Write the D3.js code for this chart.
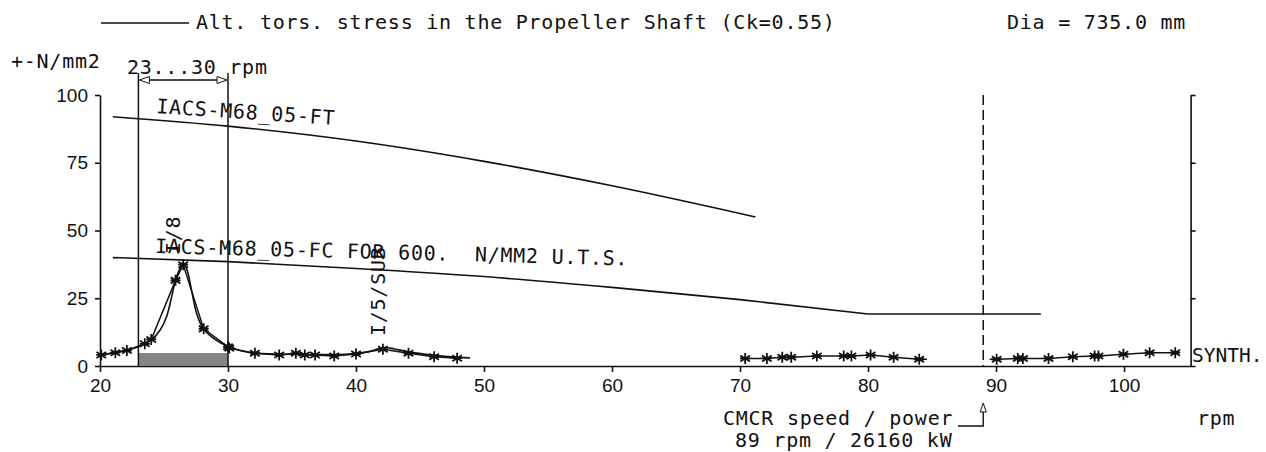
<!DOCTYPE html>
<html>
<head>
<meta charset="utf-8">
<script src="https://cdn.jsdelivr.net/npm/d3@7"></script>
<style>
  body { margin: 0; background: #fff; }
  svg { display: block; }
  .mono { font-family: "DejaVu Sans Mono", monospace; font-size: 20px; letter-spacing: 0.75px; fill: #111; white-space: pre; }
  .tick text { font-family: "Liberation Sans", Arial, sans-serif; font-size: 19px; fill: #111; }
  .axis path, .axis line { stroke: #111; stroke-width: 1.6; }
</style>
</head>
<body>
<div id="chart"></div>
<script>
// tick values
var yTicks = [0, 25, 50, 75, 100];
var xTicks = [20, 30, 40, 50, 60, 70, 80, 90, 100];

// IACS M68 limit curves (rpm / N/mm2)
var ftRpm = [21, 30, 40, 50, 60, 71.2];
var ftVal = [92, 88.5, 83, 75.5, 66.5, 55];
var fcRpm = [21, 30, 40, 50, 60, 70, 80];
var fcVal = [40, 38.5, 36, 33, 29, 24.5, 19.2];
var fcFlatRpm = [80, 93.5];
var fcFlatVal = [19.2, 19.2];

// synthesised stress - smooth curve, first speed range
var resRpm = [20, 21, 22, 23, 24, 24.7, 25.2, 25.6, 25.9, 26.25, 26.5, 26.8, 27.15, 27.55, 28.05, 28.7, 29.4, 30, 31, 32, 34, 36, 38, 40, 41, 42.2, 43, 44, 46, 48, 48.9];
var resVal = [4.0, 4.9, 5.8, 7.1, 9.6, 13.3, 18.2, 25.6, 31.7, 36, 38, 35.4, 28, 19.4, 13.9, 10.8, 8.6, 7.3, 5.6, 4.8, 4.4, 4.3, 4.2, 4.6, 5.3, 6.8, 6.3, 5.3, 4.0, 3.2, 3.0];

// synthesised stress - calculated points (asterisks)
var pt1Rpm = [20.1, 21.2, 22.1, 23.5, 24.0, 25.9, 26.5, 28.1, 30.0, 30.1, 32.1, 34.0, 35.3, 36.0, 36.8, 38.3, 40.0, 42.1, 44.1, 46.1, 47.9];
var pt1Val = [4.1, 4.9, 5.7, 8.2, 9.8, 31.6, 37.4, 13.7, 7.1, 6.6, 4.7, 4.1, 4.7, 4.1, 4.1, 3.7, 4.4, 6.2, 4.7, 3.4, 2.9];
var pt2Rpm = [70.4, 72.1, 73.3, 74.0, 76.0, 78.1, 78.7, 80.2, 82.0, 84.0];
var pt2Val = [2.8, 2.8, 3.2, 3.2, 3.7, 3.7, 3.7, 4.1, 3.2, 2.5];
var pt3Rpm = [90.05, 91.7, 92.1, 94.1, 96.0, 97.7, 98.0, 99.95, 102.0, 104.0];
var pt3Val = [2.5, 2.8, 2.8, 2.8, 3.4, 3.7, 3.7, 4.3, 4.9, 4.9];

// barred speed range and CMCR
var barFrom = 23, barTo = 30;
var cmcrRpm = 89;

var W = 1266, H = 452;
var svg = d3.select("#chart").append("svg")
  .attr("width", W)
  .attr("height", H);

var x = d3.scaleLinear().domain([20, 105.2]).range([100, 1190.6]);
var y = d3.scaleLinear().domain([0, 100]).range([366, 95]);

function pts(r, v) {
  return r.map(function (d, i) { return [d, v[i]]; });
}

var line = d3.line()
  .x(function (d) { return x(d[0]); })
  .y(function (d) { return y(d[1]); });

// axes
svg.append("g")
  .attr("class", "axis")
  .attr("transform", "translate(" + x(20) + ",0)")
  .call(d3.axisLeft(y).tickValues(yTicks).tickSize(5).tickPadding(7).tickSizeOuter(0));

svg.append("g")
  .attr("class", "axis")
  .attr("transform", "translate(" + x.range()[1] + ",0)")
  .call(d3.axisRight(y).tickValues(yTicks).tickSize(5).tickFormat("").tickSizeOuter(0));

svg.append("g")
  .attr("class", "axis")
  .attr("transform", "translate(0," + y(0) + ")")
  .call(d3.axisBottom(x).tickValues(xTicks).tickSize(6).tickPadding(7).tickSizeOuter(0));

// barred speed range
svg.append("rect")
  .attr("x", x(barFrom))
  .attr("y", y(0) - 13)
  .attr("width", x(barTo) - x(barFrom))
  .attr("height", 13)
  .attr("fill", "#858585");

[barFrom, barTo].forEach(function (r) {
  svg.append("line")
    .attr("x1", x(r)).attr("x2", x(r))
    .attr("y1", 73).attr("y2", y(0))
    .attr("stroke", "#111").attr("stroke-width", 1.5);
});

// double arrow
svg.append("line")
  .attr("x1", x(barFrom) + 2).attr("x2", x(barTo) - 2)
  .attr("y1", 80).attr("y2", 80)
  .attr("stroke", "#111").attr("stroke-width", 1.4);
svg.append("path")
  .attr("d", "M" + (x(barFrom) + 1) + ",80l10,-3.5v7z")
  .attr("fill", "#fff").attr("stroke", "#111").attr("stroke-width", 1);
svg.append("path")
  .attr("d", "M" + (x(barTo) - 1) + ",80l-10,-3.5v7z")
  .attr("fill", "#fff").attr("stroke", "#111").attr("stroke-width", 1);

// CMCR dashed line
svg.append("line")
  .attr("x1", x(cmcrRpm)).attr("x2", x(cmcrRpm))
  .attr("y1", 95).attr("y2", y(0))
  .attr("stroke", "#111").attr("stroke-width", 1.5)
  .attr("stroke-dasharray", "10,5");

// limit curves
svg.append("path")
  .attr("d", line.curve(d3.curveMonotoneX)(pts(ftRpm, ftVal)))
  .attr("fill", "none").attr("stroke", "#111").attr("stroke-width", 1.6);
svg.append("path")
  .attr("d", line.curve(d3.curveMonotoneX)(pts(fcRpm, fcVal)))
  .attr("fill", "none").attr("stroke", "#111").attr("stroke-width", 1.6);
svg.append("path")
  .attr("d", line.curve(d3.curveLinear)(pts(fcFlatRpm, fcFlatVal)))
  .attr("fill", "none").attr("stroke", "#111").attr("stroke-width", 1.6);

// synth curve + point polylines
svg.append("path")
  .attr("d", line.curve(d3.curveCatmullRom)(pts(resRpm, resVal)))
  .attr("fill", "none").attr("stroke", "#111").attr("stroke-width", 1.6);

[[pt1Rpm, pt1Val], [pt2Rpm, pt2Val], [pt3Rpm, pt3Val]].forEach(function (s, k) {
  var p = pts(s[0], s[1]);
  if (k == 1) p.unshift([70.0, s[1][0]]);
  if (k == 1) p.push([84.6, s[1][s[1].length - 1]]);
  if (k == 2) p.unshift([89.5, s[1][0]]);
  svg.append("path")
    .attr("d", line.curve(d3.curveLinear)(p))
    .attr("fill", "none").attr("stroke", "#111").attr("stroke-width", 1.5);

  svg.append("g").selectAll("path")
    .data(pts(s[0], s[1]))
    .enter().append("path")
    .attr("transform", function (d) { return "translate(" + x(d[0]) + "," + y(d[1]) + ")"; })
    .attr("d", "M0,-5.5V5.5M-4.8,-3L4.8,3M-4.8,3L4.8,-3M-5,0H5")
    .attr("stroke", "#111").attr("stroke-width", 1.8).attr("fill", "none");
});

// legend line + title texts
svg.append("line")
  .attr("x1", 101).attr("x2", 189).attr("y1", 23).attr("y2", 23)
  .attr("stroke", "#111").attr("stroke-width", 1.5);

function txt(s, tx, ty, rot) {
  var t = svg.append("text").attr("class", "mono").attr("xml:space", "preserve").text(s);
  if (rot) t.attr("transform", "translate(" + tx + "," + ty + ") rotate(" + rot + ")");
  else t.attr("x", tx).attr("y", ty);
  return t;
}

txt("Alt. tors. stress in the Propeller Shaft (Ck=0.55)", 196, 29);
txt("Dia = 735.0 mm", 1007, 29);
txt("+-N/mm2", 11, 68);
txt("23...30 rpm", 127, 74);
txt("IACS-M68_05-FT", 156, 113, 3.8);
txt("IACS-M68_05-FC FOR 600.  N/MM2 U.T.S.", 155, 253, 1.5);
txt("I/8", 180, 254, -90);
txt("I/5/SUB", 385, 336, -90);
txt("SYNTH.", 1192, 362).style("letter-spacing", "0px").style("font-size", "19.5px");
txt("CMCR speed / power", 723, 425);
txt("89 rpm / 26160 kW", 735, 447);
txt("rpm", 1197, 425);

// CMCR pointer
svg.append("path")
  .attr("d", "M958,426H" + x(cmcrRpm) + "V412")
  .attr("fill", "none").attr("stroke", "#111").attr("stroke-width", 1.4);
svg.append("path")
  .attr("d", "M" + x(cmcrRpm) + ",403l-3,9h6z")
  .attr("fill", "#fff").attr("stroke", "#111").attr("stroke-width", 1);
</script>
</body>
</html>
